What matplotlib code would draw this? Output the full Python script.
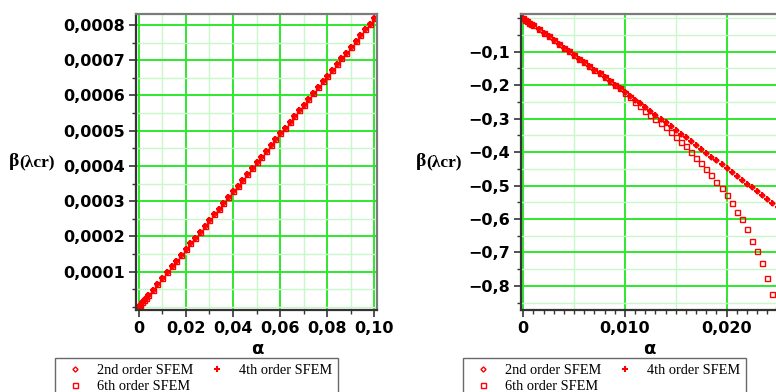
import numpy as np
import matplotlib
matplotlib.use("Agg")
import matplotlib.pyplot as plt
from matplotlib.ticker import FixedLocator, MultipleLocator

# ---------- data: left panel ----------
alpha_left = [0, 0.0008, 0.0016, 0.0024, 0.0032, 0.004, 0.006, 0.008, 0.010, 0.012,
              0.014, 0.016, 0.018, 0.020, 0.022, 0.024, 0.026, 0.028, 0.030, 0.032,
              0.034, 0.036, 0.038, 0.040, 0.042, 0.044, 0.046, 0.048, 0.050, 0.052,
              0.054, 0.056, 0.058, 0.060, 0.062, 0.064, 0.066, 0.068, 0.070, 0.072,
              0.074, 0.076, 0.078, 0.080, 0.082, 0.084, 0.086, 0.088, 0.090, 0.092,
              0.094, 0.096, 0.098, 0.100]
beta_left = [0, 0.0000066, 0.0000131, 0.0000197, 0.0000262, 0.0000328, 0.0000492,
             0.0000656, 0.000082, 0.0000984, 0.0001148, 0.0001312, 0.0001476, 0.000164,
             0.0001804, 0.0001968, 0.0002132, 0.0002296, 0.000246, 0.0002624, 0.0002788,
             0.0002952, 0.0003116, 0.000328, 0.0003444, 0.0003608, 0.0003772, 0.0003936,
             0.00041, 0.0004264, 0.0004428, 0.0004592, 0.0004756, 0.000492, 0.0005084,
             0.0005248, 0.0005412, 0.0005576, 0.000574, 0.0005904, 0.0006068, 0.0006232,
             0.0006396, 0.000656, 0.0006724, 0.0006888, 0.0007052, 0.0007216, 0.000738,
             0.0007544, 0.0007708, 0.0007872, 0.0008036, 0.00082]

# ---------- data: right panel ----------
alpha_right = [0, 0.0002, 0.0004, 0.0006, 0.0008, 0.001, 0.0015, 0.002, 0.0025, 0.003,
               0.0035, 0.004, 0.0045, 0.005, 0.0055, 0.006, 0.0065, 0.007, 0.0075, 0.008,
               0.0085, 0.009, 0.0095, 0.010, 0.0105, 0.011, 0.0115, 0.012, 0.0125, 0.013,
               0.0135, 0.014, 0.0145, 0.015, 0.0155, 0.016, 0.0165, 0.017, 0.0175, 0.018,
               0.0185, 0.019, 0.0195, 0.020, 0.0205, 0.021, 0.0215, 0.022, 0.0225, 0.023,
               0.0235, 0.024, 0.0245, 0.025]
beta4_right = [0, -0.00436, -0.00872, -0.01309, -0.01746, -0.02183, -0.03277, -0.04372,
               -0.05469, -0.06567, -0.07667, -0.08768, -0.09871, -0.10975, -0.12081,
               -0.13188, -0.14297, -0.15407, -0.16519, -0.17632, -0.18747, -0.19864,
               -0.20981, -0.22100, -0.23221, -0.24343, -0.25466, -0.26592, -0.27719,
               -0.28847, -0.29977, -0.31108, -0.32241, -0.33375, -0.34511, -0.35648,
               -0.36787, -0.37927, -0.39069, -0.40212, -0.41357, -0.42503, -0.43651,
               -0.44800, -0.45951, -0.47103, -0.48257, -0.49412, -0.50569, -0.51727,
               -0.52887, -0.54048, -0.55211, -0.56375]
beta2_right = list(beta4_right)
beta6_right = [0, -0.00436, -0.00872, -0.01309, -0.01746, -0.02183, -0.03277, -0.04372,
               -0.05469, -0.06567, -0.07667, -0.08768, -0.09871, -0.10975, -0.12081,
               -0.13188, -0.14297, -0.15407, -0.16519, -0.17632, -0.18747, -0.19864,
               -0.20981, -0.2225, -0.2355, -0.2506, -0.2635, -0.2762, -0.2884, -0.3005,
               -0.3128, -0.3262, -0.3405, -0.3543, -0.3690, -0.3827, -0.3992, -0.4174,
               -0.4338, -0.4508, -0.4689, -0.4890, -0.5084, -0.5284, -0.5528, -0.5777,
               -0.6012, -0.6306, -0.6652, -0.6964, -0.7310, -0.7765, -0.8247, -0.870]

labels = ["2nd order SFEM", "4th order SFEM", "6th order SFEM"]

xticks_left = [0, 0.02, 0.04, 0.06, 0.08, 0.10]
xticklabels_left = ["0", "0,02", "0,04", "0,06", "0,08", "0,10"]
yticks_left = [0.0001, 0.0002, 0.0003, 0.0004, 0.0005, 0.0006, 0.0007, 0.0008]
yticklabels_left = ["0,0001", "0,0002", "0,0003", "0,0004", "0,0005", "0,0006",
                    "0,0007", "0,0008"]
xticks_right = [0, 0.010, 0.020]
xticklabels_right = ["0", "0,010", "0,020"]
yticks_right = [-0.1, -0.2, -0.3, -0.4, -0.5, -0.6, -0.7, -0.8]
yticklabels_right = ["\u22120,1", "\u22120,2", "\u22120,3", "\u22120,4", "\u22120,5",
                     "\u22120,6", "\u22120,7", "\u22120,8"]

W, H = 776, 392
fig = plt.figure(figsize=(W / 100, H / 100), dpi=100)

GREEN = "#2ee82e"
LIGHT = "#c8f8c8"
tickfont = dict(family="DejaVu Sans", weight="bold", size=11.5)


def px_axes(x0, y0, x1, y1):
    return fig.add_axes([x0 / W, 1 - y1 / H, (x1 - x0) / W, (y1 - y0) / H])


def style(ax, xt, xtl, yt, ytl, xminor, yminor, xgrid_minor):
    ax.xaxis.set_major_locator(FixedLocator(xt))
    ax.set_xticklabels(xtl, fontdict=tickfont)
    ax.yaxis.set_major_locator(FixedLocator(yt))
    ax.set_yticklabels(ytl, fontdict=tickfont)
    ax.xaxis.set_minor_locator(MultipleLocator(xminor))
    ax.yaxis.set_minor_locator(MultipleLocator(yminor))
    ax.grid(True, which="major", color=GREEN, lw=1.4, zorder=0)
    ax.grid(True, which="minor", axis="y", color=LIGHT, lw=1.0, zorder=0)
    for g in xgrid_minor:
        ax.axvline(g, color=LIGHT, lw=1.0, zorder=0)
    ax.set_axisbelow(True)
    ax.tick_params(which="major", direction="out", length=5, width=1.2,
                   color="#333333", pad=3)
    ax.tick_params(which="minor", direction="out", length=3, width=1.0,
                   color="#333333")
    for s in ["left", "bottom"]:
        ax.spines[s].set_color("#333333")
        ax.spines[s].set_linewidth(1.6)
    for s in ["top", "right"]:
        ax.spines[s].set_color("#7a7a7a")
        ax.spines[s].set_linewidth(1.6)


def draw(ax, x, b2, b4, b6):
    h2, = ax.plot(x, b2, ls="none", marker="D", ms=2.6, mfc="none", mec="red",
                  mew=1.0, label=labels[0])
    h4, = ax.plot(x, b4, ls="none", marker="+", ms=4.5, mec="red", mew=1.5,
                  label=labels[1])
    h6, = ax.plot(x, b6, ls="none", marker="s", ms=3.6, mfc="none", mec="red",
                  mew=1.0, label=labels[2])
    return h2, h4, h6


def legend(handles, x_left):
    h2, h4, h6 = handles
    leg = fig.legend([h2, h6, h4], [labels[0], labels[2], labels[1]], ncol=2,
                     loc="upper left", bbox_to_anchor=(x_left / W, 1 - 357.7 / H),
                     frameon=True, fancybox=False, borderaxespad=0,
                     prop=dict(family="Liberation Serif", size=10.4),
                     handlelength=2.0, handletextpad=0.5, columnspacing=0.65,
                     labelspacing=0.22, borderpad=0.4)
    leg.get_frame().set_edgecolor("#444444")
    leg.get_frame().set_linewidth(1.0)


def ylabel(x, y):
    fig.text(x / W, 1 - y / H, "\u03b2", family="Liberation Serif",
             weight="bold", size=14, va="center", ha="left")
    fig.text((x + 10) / W, 1 - y / H, "(\u03bbcr)", family="Liberation Serif",
             weight="bold", size=12.5, va="center", ha="left")


# ---------- left panel ----------
axL = px_axes(136, 14, 377, 310)
hL = draw(axL, alpha_left, beta_left, beta_left, beta_left)
axL.set_xlim(-0.00106, 0.10106)
axL.set_ylim(-0.0000088, 0.000831)
style(axL, xticks_left, xticklabels_left, yticks_left, yticklabels_left,
      0.01, 0.00005, [])
axL.grid(True, which="minor", axis="x", color=LIGHT, lw=1.0, zorder=0)
legend(hL, 55)
ylabel(9, 162)
fig.text(257 / W, 1 - 349 / H, "\u03b1", family="DejaVu Sans", weight="bold",
         size=13, ha="center", va="center")

# ---------- right panel ----------
axR = px_axes(520.7, 14, 777.5, 310)
hR = draw(axR, alpha_right, beta2_right, beta4_right, beta6_right)
axR.set_xlim(-0.000256, 0.0250)
axR.set_ylim(-0.872, 0.0125)
style(axR, xticks_right, xticklabels_right, yticks_right, yticklabels_right,
      0.001, 0.05, [0.005, 0.015])
legend(hR, 463)
ylabel(416, 162)
fig.text(649 / W, 1 - 349 / H, "\u03b1", family="DejaVu Sans", weight="bold",
         size=13, ha="center", va="center")

fig.savefig("out.png", dpi=100)
